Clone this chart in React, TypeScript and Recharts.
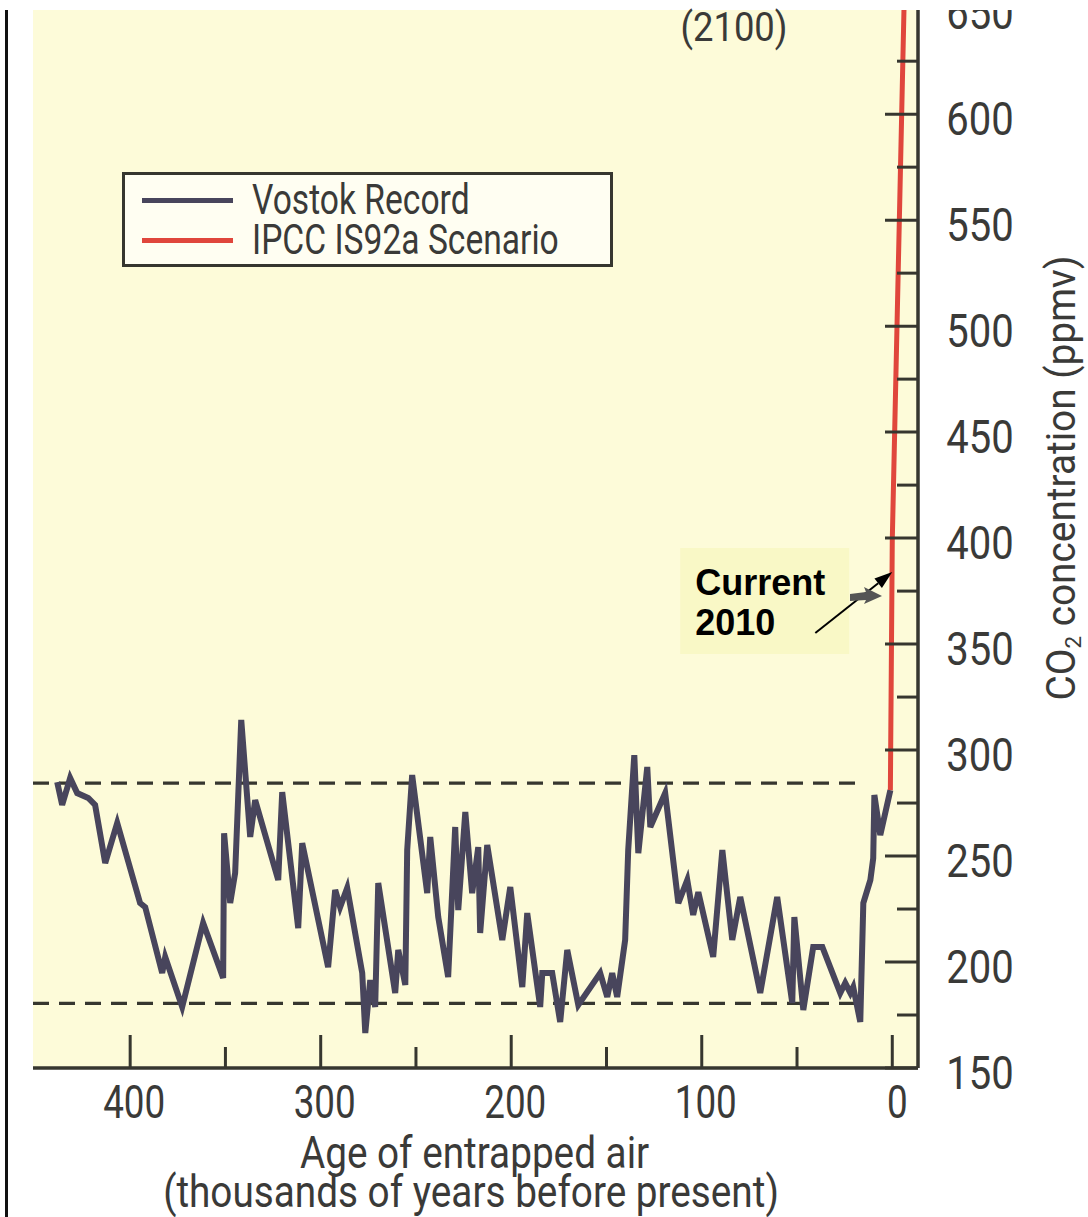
import React from 'react';
import {
  LineChart,
  Line,
  XAxis,
  YAxis,
  CartesianGrid,
  ReferenceLine,
  ReferenceArea,
  Legend,
} from 'recharts';

// Vostok ice core record (age in kyr BP, CO2 in ppmv)
const vostokAge = [
  438.3, 435.7, 431.5, 427.8, 422.0, 418.4, 413.1, 406.8, 394.8, 392.1,
  383.2, 381.6, 372.7, 361.7, 351.2, 350.7, 347.5, 344.9, 341.7, 337.0,
  334.4, 322.3, 320.2, 311.8, 309.7, 296.1, 292.4, 289.8, 286.1, 278.2,
  276.6, 274.0, 271.4, 269.8, 260.9, 259.3, 255.6, 254.6, 252.0, 244.1,
  242.5, 238.3, 233.1, 229.4, 227.8, 224.1, 220.5, 217.3, 216.3, 212.6,
  204.7, 200.5, 194.2, 191.6, 184.8, 183.7, 178.5, 174.3, 170.6, 164.8,
  153.3, 149.6, 147.0, 144.4, 140.2, 138.6, 135.4, 133.3, 128.6, 127.0,
  119.2, 112.3, 107.6, 104.5, 101.8, 94.0, 89.2, 84.0, 79.8, 69.3,
  60.4, 52.5, 51.4, 46.7, 41.5, 36.7, 27.3, 24.7, 22.0, 20.5,
  16.8, 15.2, 11.5, 10.0, 9.4, 6.3, 1.0,
];
const vostokCo2 = [
  284.9, 274.1, 286.8, 279.7, 277.4, 274.1, 246.7, 265.6, 227.8, 225.9,
  194.8, 202.4, 178.8, 218.4, 192.5, 260.8, 227.8, 242.0, 314.2, 259.0,
  276.4, 238.7, 280.2, 216.0, 256.1, 197.6, 234.0, 225.9, 234.9, 194.8,
  166.5, 191.5, 178.8, 237.3, 185.4, 205.7, 189.2, 252.8, 288.2, 232.5,
  259.0, 221.2, 192.9, 263.7, 224.5, 270.8, 232.5, 254.2, 213.7, 255.2,
  210.4, 235.4, 188.2, 223.1, 178.8, 194.8, 194.8, 171.7, 205.7, 179.7,
  194.8, 183.5, 194.8, 183.5, 210.4, 252.8, 297.6, 251.4, 292.0, 263.7,
  279.7, 227.8, 238.7, 222.2, 233.0, 202.4, 252.8, 210.4, 230.7, 185.4,
  230.7, 180.7, 221.2, 177.4, 207.1, 207.1, 185.4, 190.1, 185.4, 188.2,
  171.7, 227.8, 238.7, 249.0, 278.8, 259.9, 281.1,
];

// IPCC IS92a scenario (runs off the top of the chart)
const scenarioAge = [1.0, 0.0, -6.4];
const scenarioCo2 = [281.1, 399.0, 660.0];

// pre-industrial band (dashed lines)
const bandCo2 = [284.4, 180.5];
const bandFrom = 451;
const bandTo = 15.7;

const xTicks = [400, 350, 300, 250, 200, 150, 100, 50, 0];
const yTicks = [150, 175, 200, 225, 250, 275, 300, 325, 350, 375, 400, 425, 450, 475, 500, 525, 550, 575, 600, 625, 650];
const legendOrder = ['Vostok Record', 'IPCC IS92a Scenario'];

// "Current 2010" callout
const calloutAge = [111.3, 22.6];
const calloutCo2 = [345.3, 395.3];
const arrowFrom = { age: 40.4, co2: 355.2 };
const arrowTo = { age: 0.0, co2: 384.0 };

const vostok = vostokAge.map((age, i) => ({ age, co2: vostokCo2[i] }));
const scenario = scenarioAge.map((age, i) => ({ age, co2: scenarioCo2[i] }));

const INK = '#36362f';
const TEXT = '#3a3a38';
const SCAN_FONT = 'Roboto, "Liberation Sans", sans-serif';

const XTick = (props: any) => {
  const { x, y, payload } = props;
  const major = payload.value % 100 === 0;
  return (
    <g>
      <line x1={x} x2={x} y1={y} y2={y - (major ? 33 : 21)} stroke={INK} strokeWidth={3} />
      {major && (
        <text
          transform={`translate(${x + (payload.value === 0 ? 5 : 4)},${y + 50}) scale(0.8,1)`}
          textAnchor="middle"
          fontFamily={SCAN_FONT}
          fontSize={46}
          fill={TEXT}
        >
          {payload.value}
        </text>
      )}
    </g>
  );
};

const RightTick = (props: any) => {
  const { x, y, payload } = props;
  const major = payload.value % 50 === 0;
  return (
    <g>
      <line x1={x} x2={x - (major ? 33 : 21)} y1={y} y2={y} stroke={INK} strokeWidth={3} />
      {major && (
        <text
          transform={`translate(${x + 62},${y + 21}) scale(0.87,1)`}
          textAnchor="middle"
          fontFamily={SCAN_FONT}
          fontSize={46}
          fill={TEXT}
        >
          {payload.value}
        </text>
      )}
    </g>
  );
};

const LeftTick = (props: any) => {
  const { x, y, payload } = props;
  const major = payload.value % 50 === 0;
  return <line x1={x} x2={x + (major ? 37 : 25)} y1={y} y2={y} stroke={INK} strokeWidth={3} />;
};

const xTitle = () => (
  <text fontFamily={SCAN_FONT} fill={TEXT} textAnchor="middle" fontSize={44} transform="translate(471,1181) scale(0.88,1)">
    <tspan x={4} y={0}>Age of entrapped air</tspan>
    <tspan x={0} y={39}>(thousands of years before present)</tspan>
  </text>
);

const yTitle = () => (
  <text
    transform="translate(1075,491) rotate(-90) scale(0.97,1)"
    textAnchor="middle"
    fontFamily={SCAN_FONT}
    fontSize={40}
    fill={TEXT}
  >
    CO<tspan fontSize={23} dy={6}>2</tspan>
    <tspan dy={-6}> concentration (ppmv)</tspan>
  </text>
);

const calloutLabel = (props: any) => {
  const { x, y } = props.viewBox;
  return (
    <text fontFamily='"Liberation Sans", Arial, sans-serif' fontWeight="bold" fontSize={36} fill="#000">
      <tspan x={x + 15} y={y + 47}>Current</tspan>
      <tspan x={x + 15} y={y + 87}>2010</tspan>
    </text>
  );
};

const ArrowShape = (p: any) => {
  const { x1, y1, x2, y2 } = p;
  const a = Math.atan2(y2 - y1, x2 - x1);
  const L = 18;
  const W = 6;
  const bx = x2 - L * Math.cos(a);
  const by = y2 - L * Math.sin(a);
  const pts = `${x2},${y2} ${bx + W * Math.sin(a)},${by - W * Math.cos(a)} ${bx - W * Math.sin(a)},${by + W * Math.cos(a)}`;
  return (
    <g>
      <line x1={x1} y1={y1} x2={bx} y2={by} stroke="#000" strokeWidth={2} />
      <polygon points={pts} fill="#000" />
    </g>
  );
};

const renderLegend = (props: any) => {
  const items = [...(props.payload || [])].sort(
    (a: any, b: any) => legendOrder.indexOf(a.value) - legendOrder.indexOf(b.value)
  );
  return (
    <div
      style={{
        boxSizing: 'border-box',
        width: 491,
        height: 95,
        border: `3px solid ${INK}`,
        background: '#fffef2',
        paddingTop: 5,
      }}
    >
      {items.map((e: any) => (
        <div key={e.value} style={{ display: 'flex', alignItems: 'center', height: 40 }}>
          <div style={{ flexShrink: 0, width: 91, height: 5, background: e.color, marginLeft: 17, marginRight: 19 }} />
          <span
            style={{
              display: 'inline-block',
              fontFamily: SCAN_FONT,
              fontSize: 42,
              lineHeight: '40px',
              color: TEXT,
              whiteSpace: 'nowrap',
              transform: 'scaleX(0.8)',
              transformOrigin: 'left center',
            }}
          >
            {e.value}
          </span>
        </div>
      ))}
    </div>
  );
};

export default function App() {
  return (
    <div style={{ position: 'absolute', left: 0, top: 0, width: 1088, height: 1217, background: '#fff', overflow: 'hidden' }}>
      <div style={{ position: 'absolute', left: 5, top: 10, width: 3, height: 1207, background: '#111' }} />
      <div style={{ position: 'absolute', left: 0, top: 10, width: 1088, height: 1207, overflow: 'hidden' }}>
        <div style={{ position: 'absolute', left: 0, top: -23 }}>
          <LineChart width={1088} height={1230} margin={{ top: 0, right: 0, bottom: 0, left: 33 }}>
            <CartesianGrid fill="#fdfbd9" stroke="none" horizontal={false} vertical={false} />
            <XAxis
              dataKey="age"
              type="number"
              domain={[-13.5, 451]}
              reversed
              allowDataOverflow
              ticks={xTicks}
              interval={0}
              height={149}
              tickSize={0}
              tickMargin={0}
              tickLine={false}
              axisLine={{ stroke: INK, strokeWidth: 3.5 }}
              tick={<XTick />}
              label={xTitle}
            />
            <YAxis
              yAxisId="l"
              orientation="left"
              type="number"
              domain={[150, 660]}
              allowDataOverflow
              ticks={yTicks}
              interval={0}
              width={0}
              tickSize={0}
              tickMargin={0}
              tickLine={false}
              axisLine={{ stroke: INK, strokeWidth: 3.5 }}
              tick={<LeftTick />}
            />
            <YAxis
              yAxisId="r"
              orientation="right"
              type="number"
              domain={[150, 660]}
              allowDataOverflow
              ticks={yTicks}
              interval={0}
              width={170}
              tickSize={0}
              tickMargin={0}
              tickLine={false}
              axisLine={{ stroke: INK, strokeWidth: 3.5 }}
              tick={<RightTick />}
              label={yTitle}
            />
            {bandCo2.map((v) => (
              <ReferenceLine
                key={v}
                yAxisId="r"
                segment={[{ x: bandFrom, y: v }, { x: bandTo, y: v }]}
                stroke={INK}
                strokeWidth={3.2}
                strokeDasharray="16 10"
              />
            ))}
            <ReferenceArea
              yAxisId="r"
              x1={calloutAge[0]}
              x2={calloutAge[1]}
              y1={calloutCo2[0]}
              y2={calloutCo2[1]}
              fill="#f9f8c6"
              fillOpacity={1}
              stroke="none"
              label={calloutLabel}
            />
            <Line
              yAxisId="r"
              data={vostok}
              dataKey="co2"
              name="Vostok Record"
              type="linear"
              stroke="#48455c"
              strokeWidth={6}
              dot={false}
              isAnimationActive={false}
            />
            <Line
              yAxisId="r"
              data={scenario}
              dataKey="co2"
              name="IPCC IS92a Scenario"
              type="linear"
              stroke="#e0463c"
              strokeWidth={5}
              dot={false}
              isAnimationActive={false}
            />
            <ReferenceLine
              yAxisId="r"
              segment={[{ x: arrowFrom.age, y: arrowFrom.co2 }, { x: arrowTo.age, y: arrowTo.co2 }]}
              shape={ArrowShape}
            />
            <Legend
              layout="vertical"
              align="center"
              verticalAlign="middle"
              content={renderLegend}
              wrapperStyle={{ left: 122, top: 185, width: 491, height: 95 }}
            />
          </LineChart>
        </div>
      </div>
      <svg width={1088} height={1217} style={{ position: 'absolute', left: 0, top: 0, pointerEvents: 'none' }}>
        <text
          transform="translate(734,41) scale(0.91,1)"
          textAnchor="middle"
          fontFamily={SCAN_FONT}
          fontSize={40}
          fill={TEXT}
        >
          (2100)
        </text>
        <polygon points="850,594 866,592 864,587 882,596 864,604 866,600 850,601" fill="#555" />
      </svg>
    </div>
  );
}
